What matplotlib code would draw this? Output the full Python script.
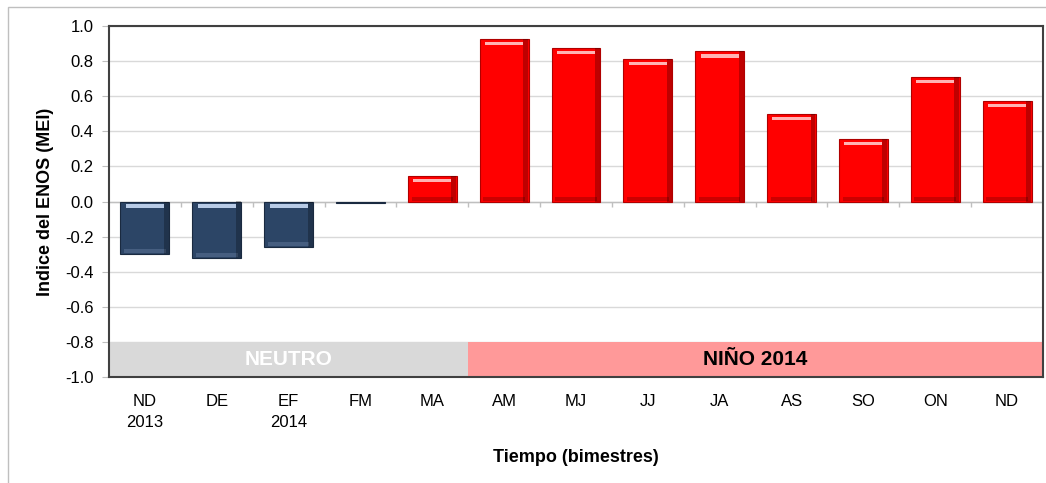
import numpy as np
import matplotlib
matplotlib.use("Agg")
import matplotlib.pyplot as plt
from matplotlib.patches import Rectangle

plt.rcParams['font.family'] = ['Liberation Sans Narrow', 'Liberation Sans', 'DejaVu Sans']

# datos MEI bimestral
bimestres = ['ND\n2013', 'DE', 'EF\n2014', 'FM', 'MA', 'AM', 'MJ', 'JJ', 'JA', 'AS', 'SO', 'ON', 'ND']
mei = [-0.30, -0.32, -0.26, -0.01, 0.145, 0.925, 0.875, 0.81, 0.855, 0.50, 0.355, 0.71, 0.575]
fases = ['NEUTRO', 'NIÑO 2014']
fase_n = [5, 8]  # bimestres en cada fase
yticks = [-1.0, -0.8, -0.6, -0.4, -0.2, 0.0, 0.2, 0.4, 0.6, 0.8, 1.0]

fig = plt.figure(figsize=(10.46, 4.83), dpi=100)
fig.patches.append(Rectangle((8/1046, -0.1), 1.2, 1.1 - 7/483, transform=fig.transFigure,
                             fill=False, edgecolor='#bfbfbf', lw=1))
ax = fig.add_axes([109/1046, 1 - 377/483, (1043 - 109)/1046, (377 - 26)/483])

x = np.arange(len(mei))
ancho = 0.68
colores = ['#2c4566' if v < 0 or abs(v) < 0.05 else '#ff0000' for v in mei]
bordes = ['#1a2a40' if v < 0 or abs(v) < 0.05 else '#b00000' for v in mei]
ax.bar(x, mei, width=ancho, color=colores, edgecolor=bordes, lw=0.8, zorder=3)

# efecto biselado: brillo arriba, sombra abajo
for xi, v, c in zip(x, mei, colores):
    alto = abs(v)
    if alto < 0.05:
        continue
    tope = max(v, 0)
    base = min(v, 0)
    luz = '#ffb3b3' if c == '#ff0000' else '#b8cbe6'
    ax.bar(xi, 0.018, bottom=tope - 0.035, width=ancho * 0.78, color=luz, lw=0, zorder=4)
    ax.bar(xi, 0.022, bottom=base + 0.005, width=ancho * 0.85,
           color='#c00000' if c == '#ff0000' else '#4d6587', lw=0, zorder=4, alpha=0.8)
    ax.bar(xi + ancho * 0.44, alto, bottom=base, width=ancho * 0.1,
           color='black', alpha=0.25, lw=0, zorder=4)

# bandas de fase
inicio = -0.5
for nombre, n in zip(fases, fase_n):
    neutro = nombre == 'NEUTRO'
    ax.add_patch(Rectangle((inicio, -1.0), n, 0.2, facecolor='#d9d9d9' if neutro else '#ff9999',
                           edgecolor='none', zorder=2))
    ax.text(inicio + n / 2, -0.9, nombre, ha='center', va='center', fontsize=15, fontweight='bold',
            color='white' if neutro else 'black', zorder=5)
    inicio += n

ax.set_xlim(-0.5, len(mei) - 0.5)
ax.set_ylim(-1.0, 1.0)
ax.set_yticks(yticks)
ax.set_yticklabels(['%.1f' % t for t in yticks], fontsize=12)
ax.yaxis.grid(True, color='#d9d9d9', lw=1, zorder=0)
ax.set_axisbelow(True)
ax.tick_params(axis='y', length=5, color='#bfbfbf', pad=6)

ax.set_xticks(x)
ax.set_xticklabels(bimestres, fontsize=12, linespacing=1.5)
ax.tick_params(axis='x', length=0, pad=12)

# eje horizontal en cero con marcas
ax.axhline(0, color='#bfbfbf', lw=1, zorder=2)
ax.vlines(np.arange(0.5, len(mei) - 0.5), -0.03, 0, color='#bfbfbf', lw=1, zorder=2)

for s in ax.spines.values():
    s.set_color('#404040')
    s.set_linewidth(1.5)

ax.set_ylabel('Indice del ENOS (MEI)', fontsize=13, fontweight='bold', labelpad=8)
ax.set_xlabel('Tiempo (bimestres)', fontsize=13, fontweight='bold', labelpad=14)

fig.savefig('out.png', dpi=100)
